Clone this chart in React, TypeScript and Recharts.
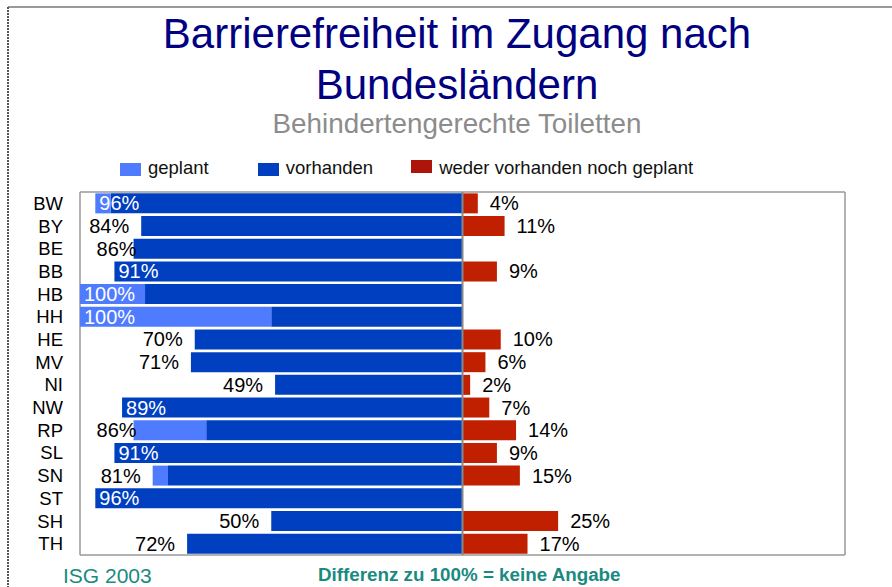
import React from "react";
import {
    BarChart,
    Bar,
    XAxis,
    YAxis,
    CartesianGrid,
    ReferenceLine,
    LabelList,
    Legend,
} from "recharts";

// Bundesländer, top to bottom
const states = ["BW", "BY", "BE", "BB", "HB", "HH", "HE", "MV", "NI", "NW", "RP", "SL", "SN", "ST", "SH", "TH"];
// percentages
const vorhanden = [92, 84, 86, 91, 83, 50, 70, 71, 49, 89, 67, 91, 77, 96, 50, 72];
const geplant = [4, 0, 0, 0, 17, 50, 0, 0, 0, 0, 19, 0, 4, 0, 0, 0];
const weder = [4, 11, 0, 9, 0, 0, 10, 6, 2, 7, 14, 9, 15, 0, 25, 17];

const legendOrder = ["geplant", "vorhanden", "weder"];

const FONT = "'Liberation Sans', Arial, Helvetica, sans-serif";
const LIGHT = "#4f7bff";
const DARK = "#0040c0";
const RED = "#c02000";
const LEGEND_RED = "#ae1409";
const TEAL = "#1a8a80";

// left side drawn as negative values, stacked away from the center line
const chartData = states.map((s, i) => ({
    state: s,
    vorhanden: -vorhanden[i],
    geplant: -geplant[i],
    weder: weder[i],
}));

function LeftLabel(props: any) {
    const vb = props.viewBox || props;
    const { x, y, width, height } = vb;
    const i = props.index;
    if (i == null) return null;
    const total = vorhanden[i] + geplant[i];
    const right = Math.max(x, x + width);
    const w = Math.abs(width);
    // extend the vorhanden bar by the geplant share to find the outer end
    const left = right - (w * total) / vorhanden[i];
    const cy = y + height / 2;
    const text = `${total}%`;
    if (total >= 88) {
        return (
            <text x={left + 4} y={cy} dy="0.35em" fill="#fff" fontSize={20} fontFamily={FONT} textAnchor="start">
                {text}
            </text>
        );
    }
    let endX = left - 12;
    if (endX - 41 < 84) endX = left + 3;
    return (
        <text x={endX} y={cy} dy="0.35em" fill="#000" fontSize={20} fontFamily={FONT} textAnchor="end">
            {text}
        </text>
    );
}

function RightLabel(props: any) {
    const vb = props.viewBox || props;
    const { x, y, width, height } = vb;
    const value = Number(props.value);
    if (!value) return null;
    const end = Math.max(x, x + width);
    return (
        <text x={end + 12} y={y + height / 2} dy="0.35em" fill="#000" fontSize={20} fontFamily={FONT} textAnchor="start">
            {`${value}%`}
        </text>
    );
}

function LegendContent(props: any) {
    const items = [...(props.payload || [])].sort(
        (a: any, b: any) => legendOrder.indexOf(a.dataKey) - legendOrder.indexOf(b.dataKey)
    );
    const gaps = [49, 38, 0];
    return (
        <div style={{ display: "flex", alignItems: "center", fontFamily: FONT, fontSize: 18.5, color: "#111" }}>
            {items.map((it: any, i: number) => (
                <div key={it.dataKey} style={{ display: "flex", alignItems: "center", marginRight: gaps[i] }}>
                    <span
                        style={{
                            display: "inline-block",
                            width: 21,
                            height: 13,
                            marginRight: 7,
                            background: it.dataKey === "weder" ? LEGEND_RED : it.color,
                            position: "relative",
                            top: it.dataKey === "weder" ? -2 : 1,
                        }}
                    />
                    <span>{it.value}</span>
                </div>
            ))}
        </div>
    );
}

export default function App() {
    return (
        <div style={{ position: "fixed", left: 0, top: 0, width: 892, height: 587, background: "#fff", overflow: "hidden" }}>
            <svg width={892} height={587} style={{ position: "absolute", left: 0, top: 0 }}>
                <line x1={8} y1={7} x2={892} y2={7} stroke="#999" strokeWidth={2} />
                <line x1={8} y1={7} x2={8} y2={587} stroke="#555" strokeWidth={2} strokeDasharray="2 1" />
                <text x={457} y={48} textAnchor="middle" fontFamily={FONT} fontSize={42} fill="#000080">
                    Barrierefreiheit im Zugang nach
                </text>
                <text x={457} y={99} textAnchor="middle" fontFamily={FONT} fontSize={42} fill="#000080">
                    Bundesländern
                </text>
                <text x={457} y={133} textAnchor="middle" fontFamily={FONT} fontSize={27.8} fill="#8c8c8c">
                    Behindertengerechte Toiletten
                </text>
                <text x={63} y={583} fontFamily={FONT} fontSize={21} fill={TEAL}>
                    ISG 2003
                </text>
                <text x={318} y={581} fontFamily={FONT} fontSize={18.8} fontWeight="bold" fill={TEAL}>
                    Differenz zu 100% = keine Angabe
                </text>
            </svg>
            <div style={{ position: "absolute", left: 0, top: 0 }}>
                <BarChart
                    width={892}
                    height={587}
                    data={chartData}
                    layout="vertical"
                    stackOffset="sign"
                    barCategoryGap="6%"
                    margin={{ top: 192, right: 47, bottom: 32, left: 0 }}
                >
                    <CartesianGrid
                        stroke="#999"
                        strokeWidth={1.5}
                        verticalCoordinatesGenerator={({ offset }: any) => [offset.left, offset.left + offset.width]}
                        horizontalCoordinatesGenerator={({ offset }: any) => [offset.top, offset.top + offset.height]}
                    />
                    <XAxis type="number" domain={[-100, 100]} hide />
                    <YAxis
                        type="category"
                        dataKey="state"
                        width={80}
                        interval={0}
                        axisLine={false}
                        tickLine={false}
                        tickSize={6}
                        tickMargin={11}
                        tick={{ fontSize: 18.5, fill: "#000", fontFamily: FONT }}
                    />
                    <Legend
                        layout="horizontal"
                        verticalAlign="middle"
                        align="center"
                        content={<LegendContent />}
                        wrapperStyle={{ position: "absolute", left: 120, top: 157, width: "auto", height: 22 }}
                    />
                    <Bar dataKey="vorhanden" name="vorhanden" stackId="s" fill={DARK} isAnimationActive={false}>
                        <LabelList dataKey="vorhanden" content={<LeftLabel />} />
                    </Bar>
                    <Bar dataKey="geplant" name="geplant" stackId="s" fill={LIGHT} isAnimationActive={false} />
                    <Bar dataKey="weder" name="weder vorhanden noch geplant" stackId="s" fill={RED} isAnimationActive={false}>
                        <LabelList dataKey="weder" content={<RightLabel />} />
                    </Bar>
                    <ReferenceLine x={0} stroke="#888" strokeWidth={2} />
                </BarChart>
            </div>
        </div>
    );
}
